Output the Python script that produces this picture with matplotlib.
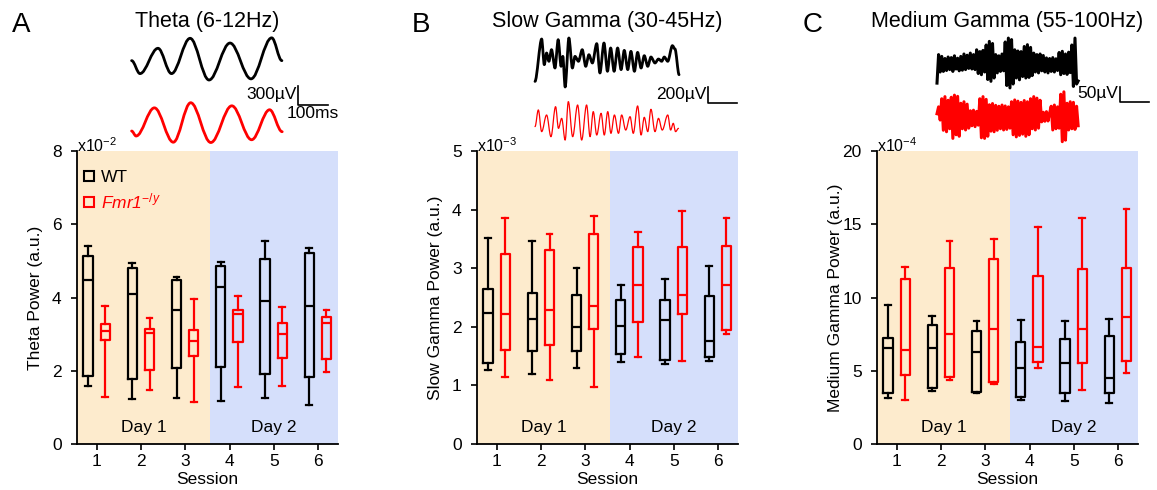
import matplotlib
matplotlib.use('Agg')
import matplotlib.pyplot as plt
import numpy as np
from matplotlib.lines import Line2D
from matplotlib.path import Path
from matplotlib.patches import PathPatch

plt.rcParams['font.family'] = ['Liberation Sans', 'DejaVu Sans']
plt.rcParams['mathtext.fontset'] = 'custom'
plt.rcParams['mathtext.rm'] = 'Liberation Sans'
plt.rcParams['mathtext.it'] = 'Liberation Sans:italic'

sessions = [1, 2, 3, 4, 5, 6]

# box stats per session: (whisker low, q1, median, q3, whisker high)
theta_wt = [(1.57, 1.87, 4.48, 5.14, 5.40), (1.24, 1.77, 4.10, 4.80, 4.95),
            (1.26, 2.07, 3.66, 4.49, 4.57), (1.18, 2.11, 4.29, 4.87, 4.97),
            (1.26, 1.91, 3.91, 5.05, 5.54), (1.06, 1.84, 3.78, 5.21, 5.36)]
theta_ko = [(1.28, 2.83, 3.08, 3.28, 3.78), (1.47, 2.02, 3.04, 3.15, 3.44),
            (1.16, 2.40, 2.82, 3.12, 3.96), (1.55, 2.78, 3.55, 3.67, 4.05),
            (1.57, 2.34, 3.01, 3.30, 3.74), (1.97, 2.31, 3.30, 3.47, 3.67)]
slow_wt = [(1.26, 1.39, 2.24, 2.65, 3.52), (1.20, 1.58, 2.14, 2.58, 3.46),
           (1.29, 1.58, 2.00, 2.55, 3.00), (1.40, 1.54, 2.02, 2.45, 2.72),
           (1.37, 1.43, 2.11, 2.45, 2.82), (1.42, 1.49, 1.76, 2.53, 3.04)]
slow_ko = [(1.15, 1.60, 2.21, 3.24, 3.85), (1.10, 1.69, 2.29, 3.31, 3.58),
           (0.97, 1.97, 2.35, 3.59, 3.89), (1.49, 2.09, 2.71, 3.36, 3.62),
           (1.42, 2.22, 2.54, 3.37, 3.98), (1.88, 1.95, 2.71, 3.38, 3.86)]
mgam_wt = [(3.16, 3.50, 6.53, 7.26, 9.49), (3.64, 3.80, 6.53, 8.15, 8.74),
           (3.46, 3.55, 6.28, 7.69, 8.42), (2.98, 3.21, 5.17, 6.96, 8.46),
           (2.91, 3.46, 5.55, 7.17, 8.42), (2.82, 3.46, 4.51, 7.39, 8.53)]
mgam_ko = [(3.03, 4.71, 6.42, 11.26, 12.06), (4.39, 4.55, 7.53, 11.99, 13.83),
           (4.07, 4.25, 7.87, 12.61, 13.97), (5.21, 5.60, 6.60, 11.49, 14.81),
           (3.71, 5.53, 7.87, 11.95, 15.43), (4.87, 5.64, 8.65, 12.04, 16.04)]

# example LFP traces, peaks/troughs (ms, uV)
theta_wt_t = [2, 30, 90, 135, 197, 260, 330, 400, 469, 503]
theta_wt_v = [-10, -215, 185, -215, 343, -316, 268, -298, 350, -10]
theta_ko_t = [2, 17, 78, 141, 199, 266, 336, 402, 462, 504]
theta_ko_v = [-134, -213, 232, -311, 313, -316, 264, -272, 202, -145]
slow_wt_t = [0, 23, 32, 40, 48, 57, 69, 80, 90, 96, 104, 117, 129, 138, 150, 163, 175, 186, 198,
             213, 224, 238, 250, 261, 273, 285, 297, 308, 320, 331, 343, 354, 366, 377, 389, 400,
             414, 426, 437, 446, 458, 474, 483, 497]
slow_wt_v = [-230, 300, -21, 125, 21, 167, -63, 292, -42, 83, -300, 313, -63, 83, 21, 167, -42,
             104, 0, 242, -125, 250, -104, 188, -104, 188, -83, 158, -83, 146, -104, 133, -63, 92,
             -42, 75, 0, 50, 21, 75, 21, 217, 175, -146]
slow_ko_t = [0, 11.5, 23, 40, 55, 71, 81, 92, 104, 115, 130, 147, 161, 178, 190, 201, 213, 228,
             239, 251, 262, 274, 288, 299, 313, 328, 339, 354, 366, 377, 389, 400, 414, 426, 439,
             458, 468, 477, 485, 495]
slow_ko_v = [-20, 188, -83, 125, -146, 229, -42, 83, -188, 292, -146, 250, -188, 250, -146, 167,
             -125, 146, -125, 167, -104, 125, -104, 125, -63, 104, -104, 238, -125, 96, -83, 196,
             -83, 83, -63, 125, -63, 21, -83, -42]
mgam_wt_v = [-67, 28, -30,
             22, -28, 15, -25, 20, -22, 18, -28, 24, -20, 16, -26, 22, -24,
             30, -22, 26, -18, 33, -20, 28, -22,
             44, -35, 38, -39, 42, -30,
             60, -55, 72, -61, 65, -50,
             28, -33, 24, -28, 30, -26,
             70, -75, 83, -83, 78, -70,
             44, -50, 40, -56, 38, -45,
             55, -50, 61, -48, 52, -42,
             33, -30, 28, -33, 30, -26, 25, -30,
             17, -33, 15, -28, 18, -30, 14, -25,
             35, -39, 39, -35, 30, -38, 36, -32,
             60, -78, 83, -70, -60]
mgam_ko_v = [10, 33, -11,
             60, -45, 67, -50, 55, -40,
             65, -72, 72, -60, 68, -65,
             45, -40, 50, -44, 42, -38,
             20, -30, 22, -33, 18, -28,
             60, -70, 67, -72, 58, -65,
             40, -48, 44, -50, 38, -45,
             35, -40, 39, -44, 36, -42, 33, -38,
             50, -60, 56, -67, 52, -62, 48, -58, 54, -65, 50, -60,
             60, -40, 67, -44, 62, -38, 55,
             -17, 15, -15, 17, -14, 12,
             35, -44, 39, -40, 33, -38,
             75, -83, 83, -78,
             45, -44, 50, -40, 48, -42, 35, -30]
mgam_dur = 487

day1_color = '#fdebcd'
day2_color = '#d5dffb'
red = '#ff0000'

W, H = 1157, 490
fig = plt.figure(figsize=(W / 100, H / 100), dpi=100)


def px_axes(x0, y0, x1, y1):
    return fig.add_axes([x0 / W, 1 - y1 / H, (x1 - x0) / W, (y1 - y0) / H])


def draw_boxes(ax, data, offset, color):
    stats = [dict(whislo=d[0], q1=d[1], med=d[2], q3=d[3], whishi=d[4]) for d in data]
    props = dict(color=color, linewidth=1.6)
    ax.bxp(stats, positions=[s + offset for s in sessions], widths=0.21, capwidths=0.13,
           showfliers=False, boxprops=props, whiskerprops=props, capprops=props,
           medianprops=props, manage_ticks=False)


def power_panel(left, wt, ko, ymax, yticks, expo, ylabel, title, letter, letter_x):
    ax = px_axes(left, 151, left + 261, 444)
    ax.axvspan(0.55, 3.55, color=day1_color, lw=0, zorder=0)
    ax.axvspan(3.55, 6.45, color=day2_color, lw=0, zorder=0)
    draw_boxes(ax, wt, -0.2, 'black')
    draw_boxes(ax, ko, 0.19, red)
    ax.set_xlim(0.55, 6.45)
    ax.set_ylim(0, ymax)
    ax.set_xticks(sessions)
    ax.set_yticks(yticks)
    for s in ['top', 'right']:
        ax.spines[s].set_visible(False)
    for s in ['left', 'bottom']:
        ax.spines[s].set_linewidth(1.3)
    ax.tick_params(direction='out', length=4, width=1.2, labelsize=12.5)
    ax.tick_params(axis='y', pad=7)
    ax.tick_params(axis='x', pad=3)
    tr = ax.get_xaxis_transform()
    ax.text(2.05, 0.055, 'Day 1', transform=tr, ha='center', va='center', fontsize=12.5)
    ax.text(5.0, 0.055, 'Day 2', transform=tr, ha='center', va='center', fontsize=12.5)
    ax.text(0.0, 0.995, 'x10$^{%d}$' % expo, transform=ax.transAxes, ha='left',
            va='baseline', fontsize=11.5)
    ax.set_xlabel('Session', fontsize=12.5, labelpad=2)
    ax.set_ylabel(ylabel, fontsize=12.5)
    ax.yaxis.set_label_coords(-34 / 261, 0.5)
    fig.text((left + 130.5) / W, 1 - 22 / H, title, ha='center', va='center', fontsize=15.5)
    fig.text(letter_x / W, 1 - 25 / H, letter, ha='center', va='center', fontsize=20)
    return ax


def scale_bar(ax, t0, v0, dv, vlabel, tlabel=None):
    ax.plot([t0, t0, t0 + 100], [v0 + dv, v0, v0], color='black', lw=1.2, clip_on=False)
    ax.text(t0 - 6, v0 + dv * 0.55, vlabel, ha='right', va='center', fontsize=12.5)
    if tlabel:
        ax.text(t0 + 50, v0 - dv * 0.47, tlabel, ha='center', va='center', fontsize=12.5)


def trace_axes(x0, x1, t_px, ms_per_px, uv_per_px, yc):
    ax = px_axes(x0, 28, x1, 150)
    ax.set_xlim((x0 - t_px) * ms_per_px, (x1 - t_px) * ms_per_px)
    ax.set_ylim(-(150 - yc) * uv_per_px, (yc - 28) * uv_per_px)
    ax.axis('off')
    return ax


def smooth_trace(ax, t, v, color, lw, offset=0, k=0.36):
    # bezier segments between successive peaks/troughs, flat at each extreme
    v = [y + offset for y in v]
    verts = [(t[0], v[0])]
    codes = [Path.MOVETO]
    for i in range(len(t) - 1):
        dt = t[i + 1] - t[i]
        verts += [(t[i] + k * dt, v[i]), (t[i + 1] - k * dt, v[i + 1]), (t[i + 1], v[i + 1])]
        codes += [Path.CURVE4] * 3
    ax.add_patch(PathPatch(Path(verts, codes), fill=False, ec=color, lw=lw,
                           capstyle='round', joinstyle='round', clip_on=False))


axA = power_panel(77, theta_wt, theta_ko, 8, [0, 2, 4, 6, 8], -2, 'Theta Power (a.u.)',
                  'Theta (6-12Hz)', 'A', 21)
axB = power_panel(477, slow_wt, slow_ko, 5, [0, 1, 2, 3, 4, 5], -3, 'Slow Gamma Power (a.u.)',
                  'Slow Gamma (30-45Hz)', 'B', 421)
axC = power_panel(877, mgam_wt, mgam_ko, 20, [0, 5, 10, 15, 20], -4,
                  'Medium Gamma Power (a.u.)', 'Medium Gamma (55-100Hz)', 'C', 813)

handles = [Line2D([], [], ls='', marker='s', ms=7, mfc='none', mec='black', mew=1.5),
           Line2D([], [], ls='', marker='s', ms=7, mfc='none', mec=red, mew=1.5)]
leg = axA.legend(handles, ['WT', r'Fmr1$^{-/y}$'], loc='upper left',
                 bbox_to_anchor=(0.015, 0.935), frameon=False, fontsize=12.5, handlelength=0.9,
                 handletextpad=0.25, labelspacing=0.35, borderpad=0, borderaxespad=0)
leg.get_texts()[1].set_color(red)
leg.get_texts()[1].set_fontstyle('italic')

# theta traces
tA = trace_axes(110, 345, 131, 3.333, 15.8, 60)
smooth_trace(tA, theta_wt_t, theta_wt_v, 'black', 2)
smooth_trace(tA, theta_ko_t, theta_ko_v, red, 2, offset=-988)
scale_bar(tA, 557, -711, 300, '300µV', '100ms')

# slow gamma traces
tB = trace_axes(525, 745, 535, 3.45, 12.5, 63)
smooth_trace(tB, slow_wt_t, slow_wt_v, 'black', 2, k=0.3)
smooth_trace(tB, slow_ko_t, slow_ko_v, red, 0.9, offset=-775)
scale_bar(tB, 597, -500, 200, '200µV')

# medium gamma traces
tC = trace_axes(925, 1157, 937, 3.45, 3.33, 63)
tC.plot(np.linspace(0, mgam_dur, len(mgam_wt_v)), mgam_wt_v, color='black', lw=2.2)
tC.plot(np.linspace(0, mgam_dur, len(mgam_ko_v)), np.array(mgam_ko_v) - 179, color=red, lw=2.2)
scale_bar(tC, 631, -130, 50, '50µV')

fig.savefig('out.png', dpi=100)
